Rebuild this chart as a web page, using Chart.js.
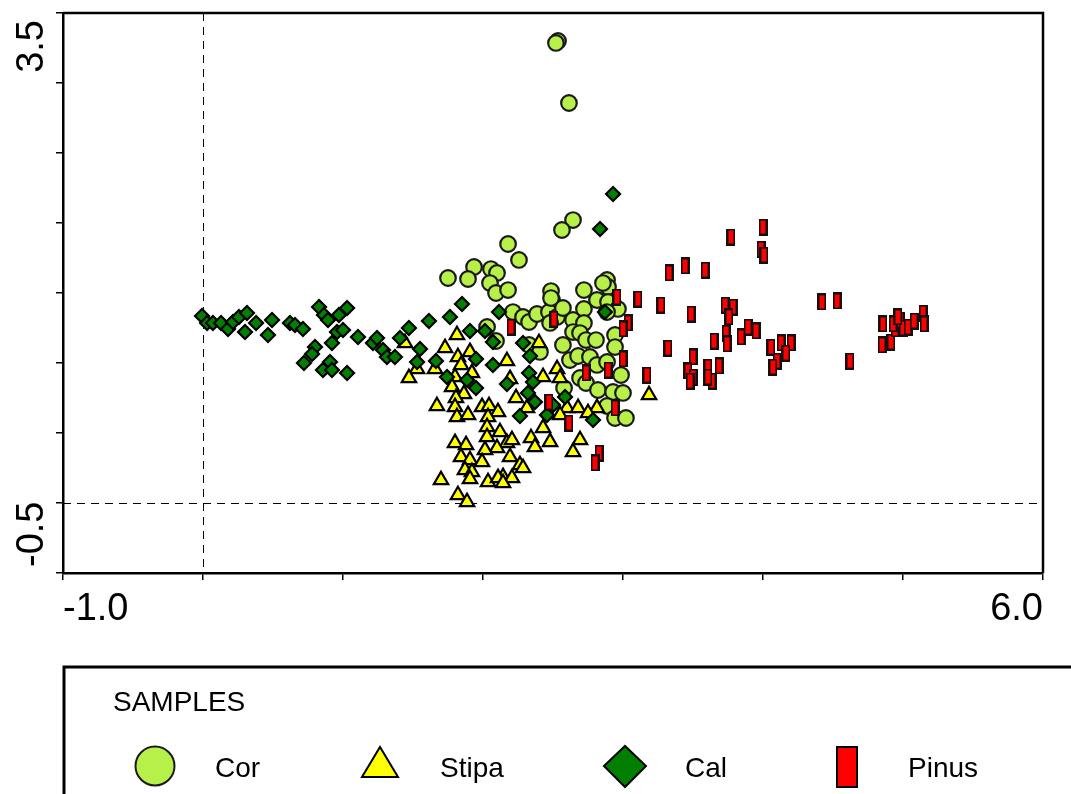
<!DOCTYPE html>
<html>
<head>
<meta charset="utf-8">
<script src="https://cdn.jsdelivr.net/npm/chart.js@4.4.1/dist/chart.umd.min.js"></script>
<style>
  body { margin: 0; background: #fff; }
  #wrap { width: 1071px; height: 794px; }
</style>
</head>
<body>
<div id="wrap"><canvas id="plot" width="1071" height="794"></canvas></div>
<script>
// sample scores, [axis1, axis2]
const corPoints = [
  [2.536,3.300],[2.521,3.286],[2.614,2.857],[2.643,2.021],[2.564,1.950],[2.179,1.850],[2.257,1.736],
  [1.936,1.686],[1.750,1.607],[1.893,1.600],[2.057,1.671],[2.100,1.643],[2.050,1.571],[2.093,1.500],
  [2.179,1.521],[2.486,1.514],[2.493,1.450],[2.721,1.521],[2.886,1.593],[2.893,1.543],[2.857,1.571],
  [2.214,1.364],[2.286,1.329],[2.329,1.293],[2.386,1.350],[2.471,1.364],[2.529,1.329],[2.571,1.393],
  [2.643,1.307],[2.721,1.386],[2.721,1.286],[2.479,1.286],[2.029,1.257],[2.093,1.157],[2.329,1.129],
  [2.407,1.079],[2.571,1.129],[2.643,1.221],[2.693,1.214],[2.736,1.164],[2.807,1.164],[2.943,1.200],
  [2.943,1.114],[2.621,1.021],[2.679,1.050],[2.764,1.043],[2.814,0.986],[2.886,1.007],[2.986,0.914],
  [2.693,0.893],[2.736,0.857],[2.821,0.807],[2.929,0.793],[3.000,0.786],[2.579,0.821],[2.886,0.693],
  [2.943,0.607],[3.021,0.607],[2.814,1.450],[2.893,1.436],[2.964,1.386],[2.886,1.364],[2.486,1.464]
];
const stipaPoints = [
  [1.814,1.200],[2.400,1.143],[2.171,1.014],[1.729,1.107],[1.821,1.043],[1.907,1.079],[1.443,1.143],
  [1.529,0.957],[1.471,0.893],[1.657,0.957],[1.843,0.986],[1.921,0.929],[1.800,0.900],[1.779,0.829],
  [1.864,0.779],[1.807,0.750],[1.800,0.686],[1.671,0.693],[1.814,0.614],[1.893,0.629],[1.993,0.686],
  [2.043,0.693],[2.107,0.650],[2.036,0.614],[2.193,0.886],[2.236,0.750],[2.314,0.679],[2.429,0.900],
  [2.529,0.957],[2.550,0.893],[2.600,0.679],[2.679,0.679],[2.814,0.679],[2.750,0.643],[2.550,0.629],
  [2.429,0.536],[2.343,0.464],[2.371,0.400],[2.479,0.436],[2.693,0.450],[2.643,0.364],[3.186,0.771],
  [2.029,0.543],[2.121,0.507],[2.029,0.471],[2.171,0.429],[2.207,0.450],[2.100,0.393],[2.014,0.379],
  [1.800,0.429],[1.879,0.414],[1.843,0.329],[1.907,0.307],[1.993,0.293],[2.193,0.329],[2.264,0.271],
  [2.286,0.250],[1.871,0.236],[1.921,0.221],[1.907,0.171],[2.036,0.150],[2.143,0.186],[2.207,0.179],
  [1.700,0.164],[1.821,0.057],[1.886,0.007],[2.107,0.179],[2.143,0.143]
];
const calPoints = [
  [-0.007,1.336],[0.029,1.286],[0.071,1.286],[0.129,1.286],[0.179,1.243],[0.214,1.293],[0.257,1.329],
  [0.314,1.357],[0.300,1.221],[0.379,1.286],[0.493,1.307],[0.464,1.200],[0.621,1.286],[0.657,1.271],
  [0.714,1.243],[0.829,1.400],[0.864,1.343],[0.893,1.307],[0.971,1.343],[1.029,1.393],[0.957,1.221],
  [1.000,1.236],[0.921,1.143],[0.800,1.114],[0.779,1.064],[0.721,1.000],[0.907,1.007],[0.857,0.950],
  [0.921,0.950],[1.029,0.929],[1.107,1.186],[1.214,1.143],[1.243,1.179],[1.286,1.093],[1.314,1.043],
  [1.371,1.043],[1.407,1.179],[1.471,1.250],[1.550,1.100],[1.529,1.007],[1.614,1.300],[1.764,1.329],
  [1.850,1.421],[1.664,1.014],[1.743,0.900],[1.907,1.229],[1.950,1.029],[1.886,0.879],[1.950,0.821],
  [2.014,1.229],[2.071,1.150],[2.114,1.364],[2.071,0.986],[2.171,0.850],[2.286,1.143],[2.336,1.050],
  [2.329,0.929],[2.357,0.864],[2.321,0.786],[2.371,0.721],[2.264,0.621],[2.457,0.629],[2.500,0.700],
  [2.586,0.757],[2.786,0.593],[2.871,1.364],[2.929,2.207],[2.836,1.957]
];
const pinusPoints = [
  [3.771,1.900],[4.000,1.971],[3.986,1.814],[4.007,1.771],[3.443,1.693],[3.586,1.664],[3.329,1.643],
  [3.486,1.350],[3.729,1.414],[3.786,1.400],[3.757,1.329],[3.736,1.214],[3.743,1.136],[3.650,1.157],
  [3.843,1.186],[3.893,1.257],[3.950,1.229],[4.057,1.114],[4.129,1.143],[4.200,1.143],[4.164,1.071],
  [4.100,1.014],[4.071,0.971],[3.500,1.043],[3.464,0.943],[3.500,0.900],[3.479,0.871],[3.607,0.971],
  [3.686,0.979],[3.636,0.871],[3.607,0.900],[4.421,1.436],[4.529,1.443],[4.621,1.014],[4.857,1.279],
  [4.850,1.129],[4.914,1.150],[4.943,1.243],[4.979,1.307],[5.000,1.250],[5.036,1.257],[5.079,1.300],
  [5.143,1.357],[5.150,1.279],[4.929,1.279],[4.964,1.329],[2.200,1.257],[2.507,1.314],[2.957,1.471],
  [3.107,1.457],[3.271,1.414],[3.036,1.286],[3.000,1.243],[3.321,1.107],[3.000,1.029],[2.893,0.950],
  [2.736,0.929],[3.171,0.914],[2.471,0.721],[2.943,0.679],[2.614,0.571],[2.829,0.357],[2.800,0.286]
];

const legendTitle = 'SAMPLES';
const seriesNames = ['Cor', 'Stipa', 'Cal', 'Pinus'];
const xTickLabels = ['-1.0', '6.0'];   // shown at the axis ends only
const yTickLabels = ['3.5', '-0.5'];

const FONT = '"Liberation Sans", Arial, sans-serif';
const corFill = '#b7f048';
const stipaFill = '#ffff00';
const calFill = '#007f00';
const pinusFill = '#ff0000';

// small bar marker for Pinus
function makeBar(w, h) {
  const c = document.createElement('canvas');
  c.width = w; c.height = h;
  const g = c.getContext('2d');
  g.fillStyle = '#111';
  g.fillRect(0, 0, w, h);
  g.fillStyle = pinusFill;
  g.fillRect(2, 2, w - 4, h - 4);
  return c;
}
const pinusMarker = makeBar(9, 17);

const toXY = pts => pts.map(p => ({ x: p[0], y: p[1] }));

const extras = {
  id: 'extras',
  beforeDatasetsDraw(chart) {
    const { ctx, chartArea: a, scales: { x, y } } = chart;
    const x0 = x.getPixelForValue(0), y0 = y.getPixelForValue(0);
    ctx.save();
    ctx.strokeStyle = '#000';
    ctx.lineWidth = 1;
    ctx.setLineDash([8, 6]);
    ctx.beginPath();
    ctx.moveTo(Math.round(x0) + 0.5, a.top);
    ctx.lineTo(Math.round(x0) + 0.5, a.bottom);
    ctx.moveTo(a.left, Math.round(y0) + 0.5);
    ctx.lineTo(a.right, Math.round(y0) + 0.5);
    ctx.stroke();
    ctx.restore();
  },
  afterDraw(chart) {
    const { ctx, chartArea: a, scales: { x, y } } = chart;
    ctx.save();
    // top and right frame
    ctx.strokeStyle = '#000';
    ctx.lineWidth = 2.5;
    ctx.beginPath();
    ctx.moveTo(a.left, a.top);
    ctx.lineTo(a.right, a.top);
    ctx.lineTo(a.right, a.bottom);
    ctx.stroke();

    // end labels of the axes
    ctx.fillStyle = '#000';
    ctx.font = '38px ' + FONT;
    ctx.textBaseline = 'alphabetic';
    ctx.textAlign = 'left';
    ctx.fillText(xTickLabels[0], x.getPixelForValue(-1), 620);
    ctx.textAlign = 'right';
    ctx.fillText(xTickLabels[1], x.getPixelForValue(6), 620);

    ctx.save();
    ctx.translate(43, y.getPixelForValue(3.5) + 7);
    ctx.rotate(-Math.PI / 2);
    ctx.textAlign = 'right';
    ctx.fillText(yTickLabels[0], 0, 0);
    ctx.restore();
    ctx.save();
    ctx.translate(43, y.getPixelForValue(-0.5) - 6);
    ctx.rotate(-Math.PI / 2);
    ctx.textAlign = 'left';
    ctx.fillText(yTickLabels[1], 0, 0);
    ctx.restore();

    // legend box
    ctx.lineWidth = 3;
    ctx.strokeRect(64, 667, 1071, 200);
    ctx.font = '28px ' + FONT;
    ctx.textAlign = 'left';
    ctx.fillText(legendTitle, 113, 711);

    const cy = 766;
    ctx.lineWidth = 2;
    // Cor
    ctx.beginPath();
    ctx.arc(155, cy, 19.5, 0, Math.PI * 2);
    ctx.fillStyle = corFill; ctx.fill();
    ctx.strokeStyle = '#1a1a1a'; ctx.stroke();
    // Stipa
    ctx.beginPath();
    ctx.moveTo(380, 747); ctx.lineTo(398, 777); ctx.lineTo(362, 777); ctx.closePath();
    ctx.fillStyle = stipaFill; ctx.fill();
    ctx.strokeStyle = '#000'; ctx.stroke();
    // Cal
    ctx.beginPath();
    ctx.moveTo(604, cy); ctx.lineTo(625, 746); ctx.lineTo(646, cy); ctx.lineTo(625, 787); ctx.closePath();
    ctx.fillStyle = calFill; ctx.fill(); ctx.stroke();
    // Pinus
    ctx.fillStyle = pinusFill;
    ctx.fillRect(837, 747, 20, 40);
    ctx.strokeRect(837, 747, 20, 40);

    ctx.fillStyle = '#000';
    ctx.font = '28px ' + FONT;
    const textX = [215, 440, 685, 908];
    seriesNames.forEach((n, i) => ctx.fillText(n, textX[i], 777));
    ctx.restore();
  }
};

new Chart(document.getElementById('plot'), {
  type: 'scatter',
  data: {
    datasets: [
      { label: seriesNames[0], data: toXY(corPoints), order: 4, pointStyle: 'circle', pointRadius: 7.8,
        backgroundColor: corFill, borderColor: '#1a1a1a', borderWidth: 2.2 },
      { label: seriesNames[1], data: toXY(stipaPoints), order: 3, pointStyle: 'triangle', pointRadius: 8.3,
        backgroundColor: stipaFill, borderColor: '#000', borderWidth: 2.2 },
      { label: seriesNames[2], data: toXY(calPoints), order: 2, pointStyle: 'rectRot', pointRadius: 7,
        backgroundColor: calFill, borderColor: '#000', borderWidth: 2.2 },
      { label: seriesNames[3], data: toXY(pinusPoints), order: 1, pointStyle: pinusMarker, pointRadius: 8 }
    ]
  },
  options: {
    responsive: false,
    animation: false,
    layout: { padding: { top: 13, right: 28, left: 0, bottom: 0 } },
    plugins: { legend: { display: false }, tooltip: { enabled: false } },
    scales: {
      x: {
        min: -1, max: 6,
        ticks: { stepSize: 1, display: false },
        grid: { drawOnChartArea: false, drawTicks: true, tickLength: 7, color: '#000', lineWidth: 1.5 },
        border: { color: '#000', width: 2.5 },
        afterFit: s => { s.height = 221; }
      },
      y: {
        min: -0.5, max: 3.5,
        ticks: { stepSize: 0.5, display: false },
        grid: { drawOnChartArea: false, drawTicks: true, tickLength: 7, color: '#000', lineWidth: 1.5 },
        border: { color: '#000', width: 2.5 },
        afterFit: s => { s.width = 63; }
      }
    }
  },
  plugins: [extras]
});
</script>
</body>
</html>
